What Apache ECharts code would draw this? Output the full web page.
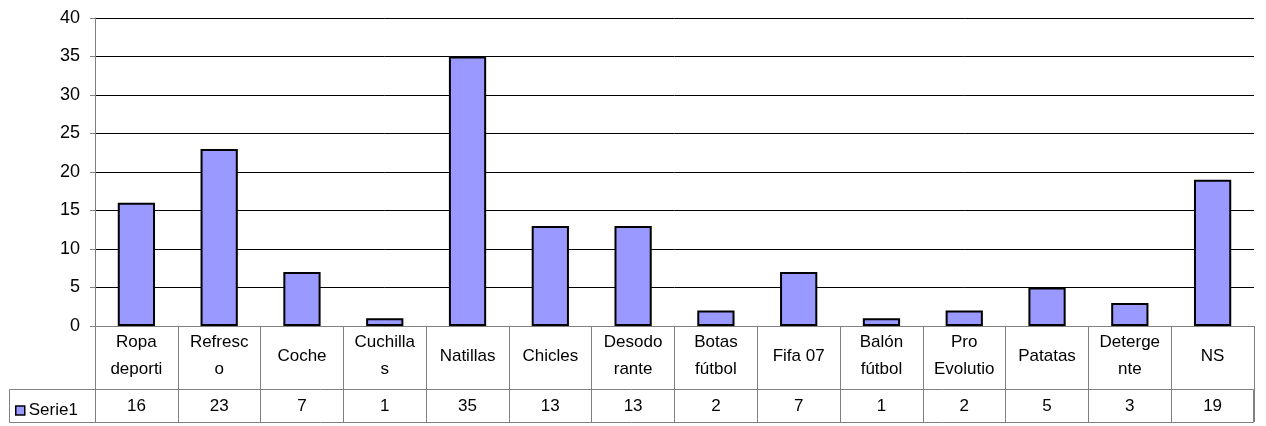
<!DOCTYPE html>
<html>
<head>
<meta charset="utf-8">
<script src="https://cdn.jsdelivr.net/npm/echarts@6/dist/echarts.min.js"></script>
<style>
html,body{margin:0;padding:0;background:#fff;}
#chart{width:1266px;height:426px;}
</style>
</head>
<body>
<div id="chart"></div>
<script>
const categories = ['Ropa\ndeporti','Refresc\no','Coche','Cuchilla\ns','Natillas','Chicles','Desodo\nrante','Botas\nfútbol','Fifa 07','Balón\nfútbol','Pro\nEvolutio','Patatas','Deterge\nnte','NS'];
const serieName = 'Serie1';
const values = [16,23,7,1,35,13,13,2,7,1,2,5,3,19];
const yTicks = {min:0, max:40, interval:5};

const FONT = '"Liberation Sans", Arial, sans-serif';
const chart = echarts.init(document.getElementById('chart'), null, {renderer:'canvas'});
chart.setOption({
  animation:false,
  backgroundColor:'#fff',
  textStyle:{fontFamily:FONT, color:'#000'},
  grid:{left:95, right:12, top:18, bottom:100, containLabel:false},
  legend:{
    show:true, left:10, top:397, data:[serieName],
    icon:'rect', itemWidth:9, itemHeight:9, itemGap:4,
    textStyle:{fontFamily:FONT, fontSize:17, color:'#000', padding:[0,0,0,-1]},
    itemStyle:{color:'#9999FF', borderColor:'#000', borderWidth:1.5},
    selectedMode:false
  },
  xAxis:[{
    type:'category', data:categories, position:'bottom',
    axisLine:{show:true, lineStyle:{color:'#808080', width:1}},
    axisTick:{show:true, length:96, lineStyle:{color:'#808080', width:1}},
    axisLabel:{show:true, interval:0, margin:30, verticalAlign:'middle', lineHeight:27,
      fontFamily:FONT, fontSize:17, color:'#000'},
    splitLine:{show:false}
  },{
    type:'category', data:categories, position:'bottom', offset:63,
    axisLine:{show:false}, axisTick:{show:false},
    axisLabel:{show:true, interval:0, margin:17, verticalAlign:'middle',
      fontFamily:FONT, fontSize:17, color:'#000',
      formatter:function(v,i){return String(values[i]);}},
    splitLine:{show:false}
  }],
  yAxis:{
    type:'value', min:yTicks.min, max:yTicks.max, interval:yTicks.interval,
    axisLine:{show:true, lineStyle:{color:'#808080', width:1}},
    axisTick:{show:true, length:5, lineStyle:{color:'#808080'}},
    axisLabel:{margin:15, fontFamily:FONT, fontSize:18, color:'#000'},
    splitLine:{show:true, lineStyle:{color:'#000', width:1}}
  },
  graphic:[{
    type:'rect', z:100, silent:true,
    shape:{x:9.5, y:389.5, width:1244, height:33},
    style:{fill:null, stroke:'#808080', lineWidth:1}
  }],
  series:[{
    name:serieName, type:'bar', data:values, barWidth:'45%',
    itemStyle:{color:'#9999FF', borderColor:'#000', borderWidth:2}
  }]
});
</script>
</body>
</html>
